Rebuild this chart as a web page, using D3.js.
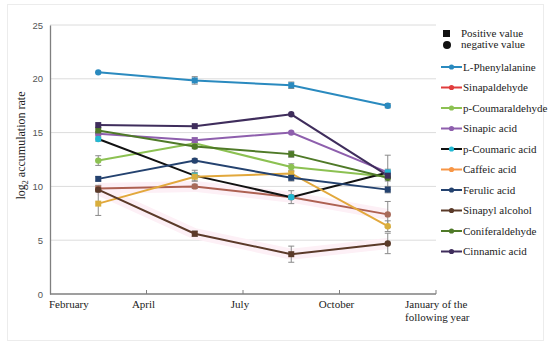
<!DOCTYPE html>
<html>
<head>
<meta charset="utf-8">
<script src="https://cdn.jsdelivr.net/npm/d3@7"></script>
<style>
  body { margin: 0; background: #fff; }
  svg { display: block; }
  .serif { font-family: "Liberation Serif", "Times New Roman", serif; }
</style>
</head>
<body>
<svg width="550" height="347"></svg>
<script>
// categories on the x axis (boundary labels) and sampling points
const monthLabels = ["February", "April", "July", "October", "January of the following year"];
const samples = ["S1", "S2", "S3", "S4"];
const yTicks = [0, 5, 10, 15, 20, 25];

const seriesNames = ["L-Phenylalanine", "Sinapaldehyde", "p-Coumaraldehyde", "Sinapic acid", "p-Coumaric acid",
  "Caffeic acid", "Ferulic acid", "Sinapyl alcohol", "Coniferaldehyde", "Cinnamic acid"];

const lPhenylalanine = [20.6, 19.85, 19.4, 17.5];
const sinapaldehyde = [9.8, 10.0, 9.0, 7.4];
const pCoumaraldehyde = [12.4, 14.0, 11.8, 10.9];
const sinapicAcid = [14.9, 14.3, 15.0, 11.3];
const pCoumaricAcid = [14.4, 11.0, 9.0, 11.3];
const caffeicAcid = [8.4, 10.9, 11.2, 6.3];
const ferulicAcid = [10.7, 12.4, 10.8, 9.7];
const sinapylAlcohol = [9.7, 5.6, 3.7, 4.7];
const coniferaldehyde = [15.2, 13.7, 13.0, 10.8];
const cinnamicAcid = [15.7, 15.6, 16.7, 11.0];

// error bar half-lengths
const errLPhe = [0, 0.35, 0.3, 0.2];
const errSinapaldehyde = [0.3, 0.2, 0.2, 1.2];
const errPCoumaraldehyde = [0.45, 0, 0.3, 0.3];
const errSinapic = [0.2, 0.2, 0, 1.6];
const errPCoumaric = [0.2, 0.5, 0.6, 0.3];
const errCaffeic = [1.1, 0.4, 0.2, 0.5];
const errFerulic = [0.2, 0.2, 0.3, 0.3];
const errSinapyl = [0.2, 0.25, 0.75, 0.95];
const errConiferaldehyde = [0.3, 0.2, 0.3, 0.3];
const errCinnamic = [0, 0, 0, 0];

// marker kind per point: s = positive value (square), c = negative value (circle)
const shapeLPhe = ["c", "s", "s", "c"];
const shapeSinapaldehyde = ["s", "c", "c", "c"];
const shapePCoumaraldehyde = ["c", "c", "c", "c"];
const shapeSinapic = ["c", "s", "c", "c"];
const shapePCoumaric = ["c", "s", "c", "s"];
const shapeCaffeic = ["s", "s", "s", "c"];
const shapeFerulic = ["s", "c", "s", "s"];
const shapeSinapyl = ["c", "s", "s", "c"];
const shapeConiferaldehyde = ["s", "c", "s", "c"];
const shapeCinnamic = ["s", "s", "c", "s"];

const lineColors = ["#2a8abf", "#ad6152", "#8cc152", "#8e5fad", "#111111", "#e2a83c", "#24426f", "#5b3a29", "#4f7a28", "#3f2d5c"];
const markerColors = ["#2a8abf", "#a86a5a", "#8cc152", "#8e5fad", "#22b8d2", "#d9ae3c", "#24426f", "#5b3a29", "#4f7a28", "#3f2d5c"];
const legendColors = ["#2a8abf", "#e03c3c", "#8cc152", "#8e5fad", "#111111", "#f79646", "#24426f", "#5b3a29", "#4f7a28", "#3f2d5c"];

const values = [lPhenylalanine, sinapaldehyde, pCoumaraldehyde, sinapicAcid, pCoumaricAcid, caffeicAcid, ferulicAcid, sinapylAlcohol, coniferaldehyde, cinnamicAcid];
const errors = [errLPhe, errSinapaldehyde, errPCoumaraldehyde, errSinapic, errPCoumaric, errCaffeic, errFerulic, errSinapyl, errConiferaldehyde, errCinnamic];
const shapes = [shapeLPhe, shapeSinapaldehyde, shapePCoumaraldehyde, shapeSinapic, shapePCoumaric, shapeCaffeic, shapeFerulic, shapeSinapyl, shapeConiferaldehyde, shapeCinnamic];

const series = seriesNames.map((name, i) => ({
  name,
  line: lineColors[i],
  marker: markerColors[i],
  legend: legendColors[i],
  points: values[i].map((v, j) => ({ s: samples[j], v, e: errors[i][j], shape: shapes[i][j] }))
}));

const plotLeft = 50, plotRight = 436, plotTop = 25, plotBottom = 294;
const svg = d3.select('svg');

// outer frame
svg.append('rect')
  .attr('x', 7.5).attr('y', 4.5)
  .attr('width', 536).attr('height', 336)
  .attr('fill', 'none')
  .attr('stroke', '#ececec');

const xBand = d3.scaleBand().domain(samples).range([plotLeft, plotRight]);
const xPoint = d3.scalePoint().domain(samples).range([plotLeft, plotRight]).padding(0.5);
const yScale = d3.scaleLinear().domain([0, 25]).range([plotBottom, plotTop]);

// gridlines
svg.append('g')
  .selectAll('line')
  .data(yTicks.filter(d => d > 0))
  .enter()
  .append('line')
  .attr('x1', plotLeft).attr('x2', plotRight)
  .attr('y1', d => yScale(d)).attr('y2', d => yScale(d))
  .attr('stroke', '#dcdcdc')
  .attr('stroke-width', 1);

// y axis
const yAxis = d3.axisLeft(yScale).tickValues(yTicks).tickSize(0).tickPadding(7);
const gy = svg.append('g')
  .attr('transform', 'translate(' + plotLeft + ',0)')
  .call(yAxis);
gy.select('.domain').attr('stroke', '#7f7f7f').attr('stroke-width', 1.3);
gy.selectAll('text')
  .style('font-family', '"Liberation Sans", Arial, sans-serif')
  .style('font-size', '9.5px')
  .attr('fill', '#555');

// x axis: ticks at band boundaries
const boundaries = samples.map(s => xBand(s)).concat([plotRight]);
const xAxis = d3.axisBottom(xBand).tickSize(-4).tickFormat('').offset(0);
const gx = svg.append('g')
  .attr('transform', 'translate(0,' + plotBottom + ')')
  .call(xAxis);
gx.selectAll('.tick').remove();
gx.select('.domain').attr('stroke', '#7f7f7f').attr('stroke-width', 1.3).attr('d', 'M' + plotLeft + ',0H' + plotRight);
gx.selectAll('line.bt')
  .data(boundaries.slice(1))
  .enter()
  .append('line')
  .attr('class', 'bt')
  .attr('x1', d => d).attr('x2', d => d)
  .attr('y1', 0).attr('y2', -4)
  .attr('stroke', '#7f7f7f');

const xl = svg.append('g')
  .attr('class', 'serif')
  .style('font-size', '11px')
  .attr('fill', '#222');
xl.append('text').attr('x', boundaries[0] - 1).attr('y', plotBottom + 14).text(monthLabels[0]);
[1, 2, 3].forEach(i => {
  xl.append('text').attr('x', boundaries[i] - 3).attr('y', plotBottom + 14)
    .attr('text-anchor', 'middle').text(monthLabels[i]);
});
const jan = monthLabels[4].split(' of the ');
xl.append('text').attr('x', boundaries[4] - 31).attr('y', plotBottom + 14).text(jan[0] + ' of the');
xl.append('text').attr('x', boundaries[4] - 31).attr('y', plotBottom + 27).text(jan[1]);

// y label
const ylab = svg.append('text')
  .attr('class', 'serif')
  .attr('transform', 'translate(25,' + ((plotTop + plotBottom) / 2 - 14) + ') rotate(-90)')
  .attr('text-anchor', 'middle')
  .style('font-size', '12px')
  .attr('fill', '#222');
ylab.append('tspan').text('log');
ylab.append('tspan').attr('dy', 3).style('font-size', '8px').text('2');
ylab.append('tspan').attr('dy', -3).text(' accumulation rate');

const line = d3.line().x(d => xPoint(d.s)).y(d => yScale(d.v));

// faint pink glow under two series
[1, 7].forEach(i => {
  svg.append('path')
    .datum(series[i].points)
    .attr('d', line)
    .attr('fill', 'none')
    .attr('stroke', '#fdf0f6')
    .attr('stroke-width', 11)
    .attr('stroke-linejoin', 'round');
});

// error bars
const eb = svg.append('g').attr('stroke', '#8a8a8a').attr('stroke-width', 1);
series.forEach(s => {
  s.points.filter(p => p.e > 0).forEach(p => {
    const x = xPoint(p.s);
    const y1 = yScale(p.v + p.e), y2 = yScale(p.v - p.e);
    eb.append('line').attr('x1', x).attr('x2', x).attr('y1', y1).attr('y2', y2);
    eb.append('line').attr('x1', x - 3).attr('x2', x + 3).attr('y1', y1).attr('y2', y1);
    eb.append('line').attr('x1', x - 3).attr('x2', x + 3).attr('y1', y2).attr('y2', y2);
  });
});

// lines + markers
series.forEach(s => {
  svg.append('path')
    .datum(s.points)
    .attr('d', line)
    .attr('fill', 'none')
    .attr('stroke', s.line)
    .attr('stroke-width', 2);
});
series.forEach(s => {
  const g = svg.append('g');
  g.selectAll('rect')
    .data(s.points.filter(p => p.shape === 's'))
    .enter()
    .append('rect')
    .attr('x', d => xPoint(d.s) - 3)
    .attr('y', d => yScale(d.v) - 3)
    .attr('width', 6).attr('height', 6)
    .attr('fill', s.marker);
  g.selectAll('circle')
    .data(s.points.filter(p => p.shape === 'c'))
    .enter()
    .append('circle')
    .attr('cx', d => xPoint(d.s))
    .attr('cy', d => yScale(d.v))
    .attr('r', 3.2)
    .attr('fill', s.marker);
});

// legend
const legend = svg.append('g')
  .attr('class', 'serif')
  .style('font-size', '11px')
  .attr('fill', '#222');
legend.append('rect').attr('x', 443).attr('y', 30).attr('width', 7).attr('height', 7).attr('fill', '#111');
legend.append('text').attr('x', 461).attr('y', 37).text('Positive value');
legend.append('circle').attr('cx', 447).attr('cy', 45).attr('r', 4).attr('fill', '#111');
legend.append('text').attr('x', 461).attr('y', 48).text('negative value');

series.forEach((s, i) => {
  const y = 67 + i * 20.5;
  legend.append('line')
    .attr('x1', 441).attr('x2', 462)
    .attr('y1', y).attr('y2', y)
    .attr('stroke', s.legend).attr('stroke-width', 2);
  legend.append('circle')
    .attr('cx', 451.5).attr('cy', y).attr('r', 2.6)
    .attr('fill', i === 4 ? markerColors[4] : s.legend);
  legend.append('text')
    .attr('x', 463).attr('y', y + 3.5)
    .text(s.name);
});
</script>
</body>
</html>
